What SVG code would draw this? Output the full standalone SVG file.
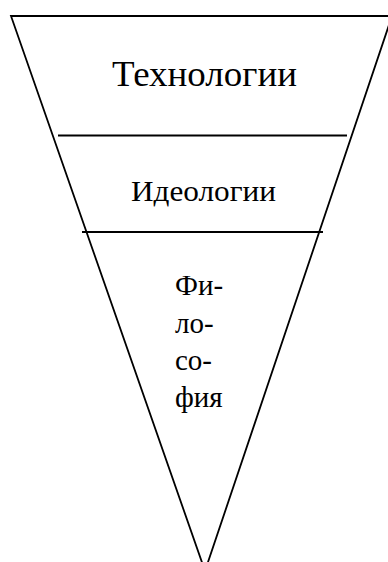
<svg xmlns="http://www.w3.org/2000/svg" width="388" height="562" viewBox="0 0 388 562">
<style>
.ln{stroke:#000;stroke-width:1.8;fill:none}
.t{font-family:"Liberation Serif","Times New Roman",serif;fill:#000}
</style>
<rect width="388" height="562" fill="#fff"/>
<g id="connectors">
<polygon class="ln" points="11,16 392,16 205,571"/>
<line class="ln" x1="58" y1="135.5" x2="347" y2="135.5"/>
<line class="ln" x1="82" y1="232" x2="323" y2="232"/>
</g>
<g id="tech"><text class="t" x="112" y="86" font-size="36" textLength="185" lengthAdjust="spacingAndGlyphs">Технологии</text></g>
<g id="ideo"><text class="t" x="131" y="201" font-size="29" textLength="145" lengthAdjust="spacingAndGlyphs">Идеологии</text></g>
<g id="philo">
<text class="t" x="175" y="295" font-size="29">Фи-</text>
<text class="t" x="175" y="333" font-size="29">ло-</text>
<text class="t" x="175" y="370" font-size="29">со-</text>
<text class="t" x="175" y="407" font-size="29">фия</text>
</g>
</svg>
